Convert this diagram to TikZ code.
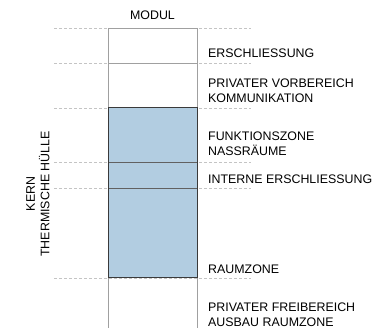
\documentclass[tikz,border=0pt]{standalone}
\usepackage{fontspec}
\setmainfont{Liberation Sans}
\usetikzlibrary{positioning}
\definecolor{kernblue}{HTML}{B2CDE1}
\definecolor{guidegrey}{HTML}{C4C4C4}
\definecolor{wallgrey}{HTML}{A0A0A0}
\definecolor{edgegrey}{HTML}{3A3A3A}

\begin{document}
\begin{tikzpicture}[x=1pt, y=-1pt,
		zone/.style={anchor=west, align=left, inner sep=0pt, font=\fontsize{12.4}{15}\selectfont},
		guide/.style={guidegrey, dash pattern=on 3pt off 2pt, line width=0.7pt}]
				\useasboundingbox (0,0) rectangle (375,328);
				% dashed guides
				\foreach \y in {28,63,108,162,188,278}
					\draw[guide] (54,\y) -- (251,\y);
				\fill[kernblue] (108,108) rectangle (197,278);
				\draw[line width=0.7pt, wallgrey] (108,28) -- (197,28);
				\draw[line width=0.7pt, wallgrey] (108,63) -- (197,63);
				\draw[line width=0.9pt, wallgrey] (108,28) -- (108,328);
				\draw[line width=0.9pt, wallgrey] (197,28) -- (197,328);
				\draw[line width=0.9pt, edgegrey!80] (108,162) -- (197,162);
				\draw[line width=0.9pt, edgegrey!80] (108,188) -- (197,188);
				\draw[line width=1pt, edgegrey] (108,108) rectangle (197,278);
				\node[font=\fontsize{12.4}{15}\selectfont] (modul) at (152.5,15) {MODUL};
				\node[rotate=90, align=center, font=\fontsize{12.4}{14.5}\selectfont] (kern) at (38,194) {KERN\\THERMISCHE HÜLLE};
				\node[zone] (erschl) at (208,53) {ERSCHLIESSUNG};
				\node[zone] (vorber) at (208,90.5) {PRIVATER VORBEREICH\\KOMMUNIKATION};
				\node[zone] (funkt) at (208,144) {FUNKTIONSZONE\\NASSRÄUME};
				\node[zone] (intern) at (208,179) {INTERNE ERSCHLIESSUNG};
				\node[zone] (raum) at (208,269) {RAUMZONE};
				\node[zone] (frei) at (208,314.5) {PRIVATER FREIBEREICH\\AUSBAU RAUMZONE};
			\end{tikzpicture}
\end{document}
